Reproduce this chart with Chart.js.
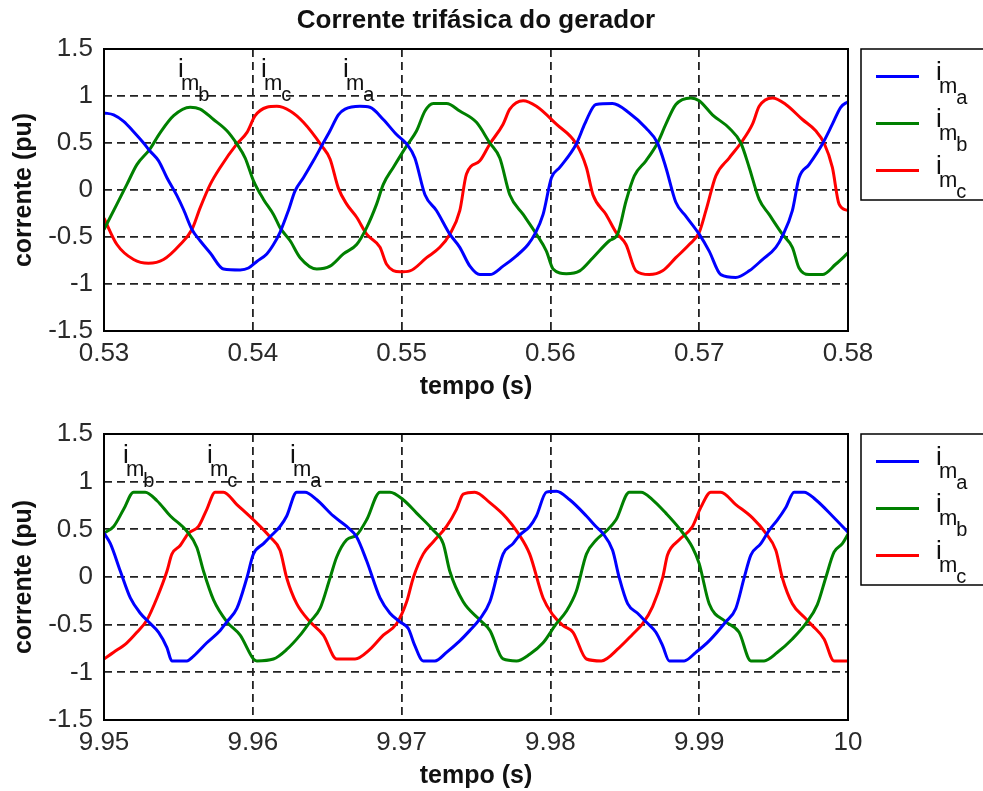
<!DOCTYPE html>
<html>
<head>
<meta charset="utf-8">
<script src="https://cdn.jsdelivr.net/npm/chart.js@4.4.1/dist/chart.umd.min.js"></script>
<style>
	body { margin: 0; background: #fff; }
	.panel { position: absolute; left: 0; width: 983px; }
	#top-panel { top: 0; height: 402px; }
	#bottom-panel { top: 402px; height: 389px; }
</style>
</head>
<body>
<div class="panel" id="top-panel"><canvas id="top-chart"></canvas></div>
<div class="panel" id="bottom-panel"><canvas id="bottom-chart"></canvas></div>
<script>
const titleText = 'Corrente trifásica do gerador';
const xTitle = 'tempo (s)';
const yTitle = 'corrente (pu)';
const phaseNames = ['a', 'b', 'c'];
const phaseColors = ['#0000ff', '#008000', '#ff0000'];

const yTicks = [-1.5, -1, -0.5, 0, 0.5, 1, 1.5];
const topXTicks = [0.53, 0.54, 0.55, 0.56, 0.57, 0.58];
const bottomXTicks = [9.95, 9.96, 9.97, 9.98, 9.99, 10];

// [tempo, corrente]
const topIa = [[0.53000,0.82],[0.53065,0.80],[0.53132,0.73],[0.53199,0.62],[0.53266,0.50],[0.53306,0.42],[0.53367,0.31],[0.53423,0.13],[0.53490,-0.06],[0.53535,-0.21],[0.53591,-0.42],[0.53646,-0.54],[0.53714,-0.67],[0.53803,-0.84],[0.53915,-0.85],[0.53971,-0.83],[0.54027,-0.76],[0.54094,-0.68],[0.54139,-0.58],[0.54183,-0.45],[0.54239,-0.22],[0.54284,-0.01],[0.54340,0.13],[0.54407,0.31],[0.54463,0.47],[0.54519,0.63],[0.54575,0.80],[0.54620,0.86],[0.54720,0.89],[0.54787,0.88],[0.54877,0.75],[0.54966,0.59],[0.55034,0.49],[0.55089,0.34],[0.55157,-0.05],[0.55235,-0.22],[0.55324,-0.47],[0.55391,-0.61],[0.55459,-0.81],[0.55526,-0.90],[0.55593,-0.90],[0.55682,-0.81],[0.55772,-0.70],[0.55850,-0.58],[0.55895,-0.47],[0.55951,-0.26],[0.56007,0.13],[0.56063,0.24],[0.56174,0.49],[0.56230,0.70],[0.56286,0.88],[0.56306,0.91],[0.56418,0.92],[0.56530,0.82],[0.56642,0.66],[0.56720,0.50],[0.56776,0.24],[0.56843,-0.13],[0.56911,-0.28],[0.57000,-0.47],[0.57067,-0.65],[0.57145,-0.90],[0.57246,-0.93],[0.57336,-0.86],[0.57425,-0.74],[0.57515,-0.61],[0.57559,-0.49],[0.57626,-0.22],[0.57671,0.13],[0.57738,0.27],[0.57828,0.49],[0.57895,0.70],[0.57951,0.88],[0.58000,0.94]];
const topIb = [[0.53000,-0.42],[0.53087,-0.15],[0.53154,0.06],[0.53221,0.27],[0.53306,0.43],[0.53378,0.61],[0.53468,0.79],[0.53579,0.88],[0.53646,0.86],[0.53736,0.75],[0.53826,0.63],[0.53893,0.49],[0.53949,0.34],[0.54004,0.10],[0.54072,-0.10],[0.54139,-0.26],[0.54183,-0.40],[0.54251,-0.54],[0.54318,-0.72],[0.54430,-0.84],[0.54519,-0.81],[0.54609,-0.68],[0.54698,-0.58],[0.54765,-0.40],[0.54832,-0.15],[0.54877,0.06],[0.54944,0.24],[0.55034,0.47],[0.55101,0.63],[0.55157,0.84],[0.55213,0.92],[0.55302,0.92],[0.55391,0.84],[0.55503,0.72],[0.55593,0.50],[0.55660,0.34],[0.55727,-0.05],[0.55817,-0.26],[0.55906,-0.47],[0.55973,-0.65],[0.56018,-0.84],[0.56107,-0.89],[0.56197,-0.86],[0.56286,-0.72],[0.56396,-0.54],[0.56452,-0.47],[0.56508,-0.12],[0.56564,0.15],[0.56642,0.31],[0.56720,0.50],[0.56776,0.70],[0.56843,0.91],[0.56944,0.98],[0.57000,0.95],[0.57089,0.80],[0.57201,0.66],[0.57280,0.50],[0.57336,0.24],[0.57403,-0.10],[0.57470,-0.26],[0.57559,-0.47],[0.57626,-0.61],[0.57671,-0.83],[0.57738,-0.90],[0.57828,-0.90],[0.57917,-0.79],[0.58000,-0.67]];
const topIc = [[0.53000,-0.30],[0.53087,-0.58],[0.53199,-0.74],[0.53299,-0.78],[0.53400,-0.74],[0.53512,-0.58],[0.53591,-0.42],[0.53646,-0.19],[0.53714,0.06],[0.53781,0.24],[0.53893,0.49],[0.53960,0.61],[0.54016,0.79],[0.54094,0.88],[0.54161,0.89],[0.54251,0.84],[0.54340,0.72],[0.54463,0.47],[0.54519,0.33],[0.54575,0.02],[0.54631,-0.15],[0.54698,-0.29],[0.54765,-0.47],[0.54855,-0.61],[0.54899,-0.79],[0.54989,-0.87],[0.55056,-0.86],[0.55168,-0.72],[0.55257,-0.61],[0.55324,-0.47],[0.55391,-0.22],[0.55436,0.17],[0.55526,0.31],[0.55593,0.49],[0.55682,0.70],[0.55727,0.86],[0.55817,0.95],[0.55906,0.89],[0.56040,0.70],[0.56174,0.49],[0.56242,0.24],[0.56286,-0.05],[0.56374,-0.26],[0.56441,-0.45],[0.56508,-0.58],[0.56575,-0.86],[0.56664,-0.90],[0.56754,-0.86],[0.56843,-0.72],[0.56933,-0.58],[0.57000,-0.45],[0.57045,-0.22],[0.57112,0.15],[0.57201,0.34],[0.57280,0.50],[0.57358,0.70],[0.57403,0.89],[0.57492,0.98],[0.57582,0.91],[0.57694,0.75],[0.57783,0.63],[0.57839,0.50],[0.57895,0.24],[0.57940,-0.15],[0.58000,-0.22]];

const bottomIa = [[9.95000,0.46],[9.95043,0.35],[9.95110,0.06],[9.95177,-0.22],[9.95244,-0.38],[9.95299,-0.47],[9.95367,-0.58],[9.95423,-0.74],[9.95456,-0.88],[9.95557,-0.88],[9.95602,-0.83],[9.95691,-0.69],[9.95781,-0.56],[9.95826,-0.47],[9.95893,-0.33],[9.95960,-0.01],[9.96004,0.24],[9.96072,0.35],[9.96128,0.44],[9.96183,0.53],[9.96228,0.64],[9.96295,0.89],[9.96351,0.89],[9.96430,0.81],[9.96541,0.64],[9.96631,0.53],[9.96698,0.42],[9.96765,0.17],[9.96855,-0.22],[9.96922,-0.38],[9.96989,-0.47],[9.97045,-0.54],[9.97089,-0.72],[9.97145,-0.88],[9.97224,-0.88],[9.97302,-0.79],[9.97391,-0.67],[9.97459,-0.56],[9.97526,-0.44],[9.97593,-0.26],[9.97682,0.24],[9.97749,0.35],[9.97794,0.44],[9.97861,0.53],[9.97906,0.64],[9.97973,0.89],[9.98040,0.90],[9.98130,0.81],[9.98242,0.64],[9.98306,0.53],[9.98351,0.46],[9.98418,0.28],[9.98463,-0.01],[9.98519,-0.28],[9.98586,-0.38],[9.98642,-0.47],[9.98709,-0.58],[9.98754,-0.72],[9.98799,-0.88],[9.98899,-0.88],[9.98978,-0.79],[9.99067,-0.67],[9.99179,-0.47],[9.99246,-0.33],[9.99302,-0.01],[9.99347,0.23],[9.99414,0.35],[9.99470,0.49],[9.99526,0.60],[9.99582,0.73],[9.99638,0.89],[9.99705,0.89],[9.99783,0.81],[9.99895,0.64],[10.00000,0.47]];
const bottomIb = [[9.95000,0.46],[9.95065,0.53],[9.95132,0.71],[9.95199,0.89],[9.95277,0.89],[9.95356,0.80],[9.95446,0.64],[9.95557,0.48],[9.95624,0.31],[9.95669,0.06],[9.95736,-0.24],[9.95826,-0.47],[9.95915,-0.61],[9.96004,-0.86],[9.96027,-0.88],[9.96139,-0.86],[9.96228,-0.76],[9.96318,-0.61],[9.96385,-0.47],[9.96452,-0.33],[9.96519,-0.01],[9.96564,0.21],[9.96631,0.39],[9.96698,0.44],[9.96765,0.60],[9.96855,0.89],[9.96922,0.89],[9.97011,0.81],[9.97101,0.67],[9.97213,0.49],[9.97280,0.35],[9.97324,0.06],[9.97414,-0.26],[9.97526,-0.45],[9.97593,-0.56],[9.97682,-0.86],[9.97772,-0.88],[9.97861,-0.81],[9.97951,-0.69],[9.98040,-0.49],[9.98107,-0.36],[9.98174,-0.15],[9.98242,0.24],[9.98309,0.39],[9.98374,0.48],[9.98441,0.60],[9.98530,0.89],[9.98609,0.89],[9.98687,0.81],[9.98776,0.67],[9.98866,0.51],[9.98955,0.31],[9.99000,0.14],[9.99067,-0.28],[9.99179,-0.47],[9.99268,-0.58],[9.99347,-0.88],[9.99436,-0.88],[9.99526,-0.79],[9.99626,-0.65],[9.99716,-0.49],[9.99794,-0.29],[9.99850,-0.01],[9.99906,0.26],[9.99962,0.35],[10.00000,0.45]];
const bottomIc = [[9.95000,-0.86],[9.95065,-0.79],[9.95154,-0.69],[9.95221,-0.58],[9.95289,-0.45],[9.95356,-0.22],[9.95423,0.06],[9.95456,0.24],[9.95512,0.33],[9.95568,0.46],[9.95635,0.53],[9.95691,0.71],[9.95747,0.89],[9.95803,0.89],[9.95893,0.76],[9.96004,0.60],[9.96116,0.42],[9.96183,0.28],[9.96228,-0.01],[9.96295,-0.28],[9.96385,-0.47],[9.96474,-0.61],[9.96564,-0.86],[9.96687,-0.86],[9.96787,-0.76],[9.96877,-0.61],[9.96966,-0.49],[9.97034,-0.26],[9.97078,-0.01],[9.97145,0.24],[9.97213,0.37],[9.97302,0.53],[9.97369,0.71],[9.97414,0.87],[9.97492,0.89],[9.97593,0.78],[9.97705,0.62],[9.97783,0.46],[9.97861,0.24],[9.97951,-0.22],[9.98018,-0.40],[9.98085,-0.51],[9.98152,-0.58],[9.98242,-0.86],[9.98342,-0.88],[9.98463,-0.74],[9.98553,-0.60],[9.98620,-0.49],[9.98687,-0.31],[9.98754,-0.01],[9.98787,0.23],[9.98866,0.39],[9.98955,0.53],[9.99011,0.73],[9.99078,0.89],[9.99145,0.89],[9.99246,0.76],[9.99358,0.62],[9.99447,0.46],[9.99515,0.28],[9.99559,-0.01],[9.99626,-0.28],[9.99705,-0.42],[9.99761,-0.51],[9.99839,-0.65],[9.99906,-0.88],[10.00000,-0.88]];

// labels written inside the plots: [tempo, corrente, fase]
const topNotes = [[0.53497, 1.2, 'b'], [0.54055, 1.2, 'c'], [0.54606, 1.2, 'a']];
const bottomNotes = [[9.95128, 1.195, 'b'], [9.95692, 1.195, 'c'], [9.96250, 1.195, 'a']];

const fontFamily = '"Liberation Sans", Arial, sans-serif';

// i, then m as subscript, then the phase letter one level lower
function drawPhaseLabel(ctx, x, y, sub) {
	ctx.fillStyle = '#111';
	ctx.textAlign = 'left';
	ctx.textBaseline = 'alphabetic';
	ctx.font = `26px ${fontFamily}`;
	ctx.fillText('i', x, y);
	ctx.font = `22px ${fontFamily}`;
	ctx.fillText('m', x + 3, y + 13);
	const w = ctx.measureText('m').width;
	ctx.font = `20px ${fontFamily}`;
	ctx.fillText(sub, x + 2 + w, y + 24);
}

const framePlugin = {
	id: 'frame',
	afterDraw(chart, args, opts) {
		const ctx = chart.ctx;
		const { left, right, top, bottom } = chart.chartArea;
		ctx.save();
		ctx.strokeStyle = '#000';
		ctx.lineWidth = 2;
		ctx.strokeRect(left, top, right - left, bottom - top);

		// notes above the peaks
		for (const [t, v, sub] of opts.notes) {
			drawPhaseLabel(ctx, chart.scales.x.getPixelForValue(t), chart.scales.y.getPixelForValue(v), sub);
		}

		// legend box to the right of the axes
		const boxX = right + 13;
		ctx.lineWidth = 1.5;
		ctx.strokeStyle = '#000';
		ctx.strokeRect(boxX, top, 200, 151);
		phaseNames.forEach((name, i) => {
			const y = top + 27.5 + 47 * i;
			ctx.strokeStyle = phaseColors[i];
			ctx.lineWidth = 3;
			ctx.beginPath();
			ctx.moveTo(boxX + 15, y);
			ctx.lineTo(boxX + 58, y);
			ctx.stroke();
			drawPhaseLabel(ctx, boxX + 75, y + 3, name);
		});
		ctx.restore();
	},
};

function createChart(canvasId, series, xTicks, notes, withTitle, padTop, xHeight) {
	const datasets = series.map((pairs, i) => ({
		label: 'i_m' + phaseNames[i],
		data: pairs.map(([x, y]) => ({ x, y })),
		borderColor: phaseColors[i],
		borderWidth: 3,
		pointRadius: 0,
		cubicInterpolationMode: 'monotone',
		borderJoinStyle: 'round',
	}));
	const gridOpts = { color: '#222', lineWidth: 1.8, drawTicks: false };
	const borderOpts = { display: false, dash: [8, 5] };
	const tickFont = { family: fontFamily, size: 26 };
	const labelFont = { family: fontFamily, size: 25, weight: 'bold' };

	new Chart(document.getElementById(canvasId), {
		type: 'line',
		data: { datasets },
		options: {
			responsive: true,
			maintainAspectRatio: false,
			animation: false,
			layout: { padding: { left: 0, right: 135, top: padTop, bottom: 0 } },
			plugins: {
				legend: { display: false },
				tooltip: { enabled: false },
				title: {
					display: withTitle,
					text: titleText,
					fullSize: false,
					color: '#111',
					font: { family: fontFamily, size: 26, weight: 'bold' },
					padding: { top: 5, bottom: 12.8 },
				},
				frame: { notes },
			},
			scales: {
				x: {
					type: 'linear',
					min: xTicks[0],
					max: xTicks[xTicks.length - 1],
					afterBuildTicks: (scale) => {
						scale.ticks = xTicks.map((v) => ({ value: v }));
					},
					afterFit: (scale) => {
						scale.height = xHeight;
					},
					grid: gridOpts,
					border: borderOpts,
					ticks: {
						autoSkip: false,
						maxRotation: 0,
						padding: 7,
						color: '#2a2a2a',
						font: tickFont,
						callback: (v) => String(v),
					},
					title: { display: true, text: xTitle, color: '#111', font: labelFont, padding: 0 },
				},
				y: {
					min: -1.5,
					max: 1.5,
					afterBuildTicks: (scale) => {
						scale.ticks = yTicks.map((v) => ({ value: v }));
					},
					afterFit: (scale) => {
						scale.width = 104;
					},
					grid: gridOpts,
					border: borderOpts,
					ticks: {
						padding: 11,
						color: '#2a2a2a',
						font: tickFont,
						callback: (v) => String(v),
					},
					title: { display: true, text: yTitle, color: '#111', font: labelFont, padding: { top: 9, bottom: 0 } },
				},
			},
		},
		plugins: [framePlugin],
	});
}

createChart('top-chart', [topIa, topIb, topIc], topXTicks, topNotes, true, 0, 71);
createChart('bottom-chart', [bottomIa, bottomIb, bottomIc], bottomXTicks, bottomNotes, false, 32, 71);
</script>
</body>
</html>
